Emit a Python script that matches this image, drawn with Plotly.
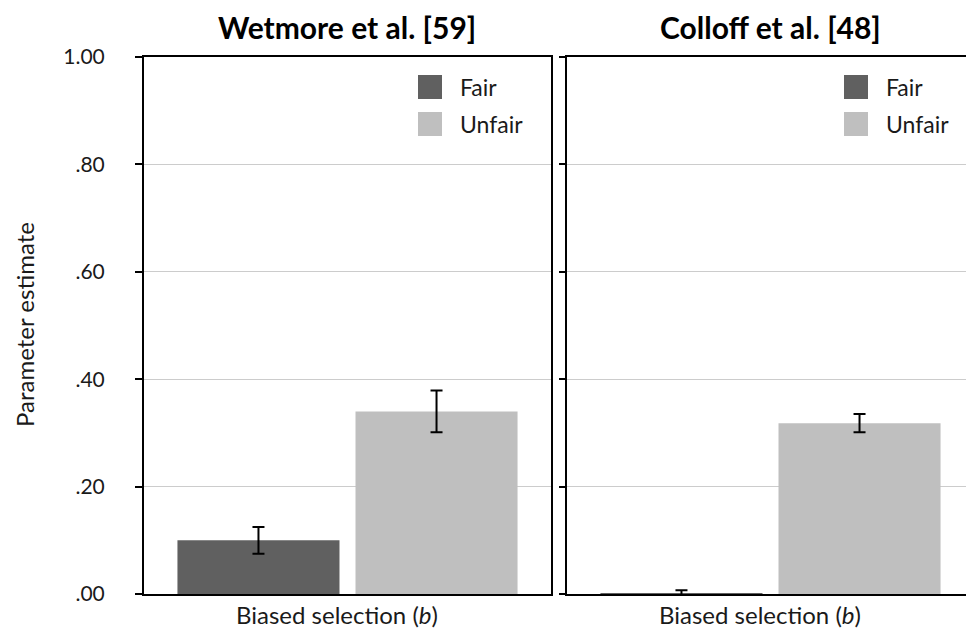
import plotly.graph_objects as go

categories = ["Biased selection (<i>b</i>)"]
panels = ["Wetmore et al. [59]", "Colloff et al. [48]"]
series = ["Fair", "Unfair"]
fair_values = [0.100, 0.001]
fair_err = [0.025, 0.006]
unfair_values = [0.340, 0.318]
unfair_err = [0.039, 0.017]
tick_vals = [0.0, 0.2, 0.4, 0.6, 0.8, 1.0]
tick_text = [".00", ".20", ".40", ".60", ".80", "1.00"]

colors = {"Fair": "#606060", "Unfair": "#bfbfbf"}
FONT = "Lato"
TXT = "#1a1a1a"
W, H = 966, 631

fig = go.Figure()
data = {"Fair": (fair_values, fair_err), "Unfair": (unfair_values, unfair_err)}
for i in range(2):
    xa = "x" if i == 0 else "x2"
    ya = "y" if i == 0 else "y2"
    for s in series:
        vals, errs = data[s]
        fig.add_trace(go.Bar(
            x=categories, y=[vals[i]], name=s, xaxis=xa, yaxis=ya,
            marker=dict(color=colors[s], line=dict(width=0)),
            error_y=dict(type="data", array=[errs[i]], color="black", thickness=2, width=6),
            showlegend=False, offsetgroup=s,
        ))

px_per_unit = 407
left_dom = [144 / W, 551 / W]
right_dom = [567 / W, 1.0]
ydom = [(H - 594) / H, (H - 57) / H]

axis_common = dict(showline=True, linecolor="black", linewidth=2, automargin=False)
fig.update_layout(
    width=W, height=H, margin=dict(l=0, r=0, t=0, b=0, pad=0, autoexpand=False),
    paper_bgcolor="white", plot_bgcolor="white",
    barmode="group", bargap=0.125, bargroupgap=0.09,
    font=dict(family=FONT, color=TXT),
    showlegend=False,
    xaxis=dict(domain=left_dom, range=[-0.5, 0.5], mirror=True, ticks="",
               showticklabels=False, **axis_common),
    xaxis2=dict(domain=right_dom, range=[-0.5, -0.5 + (W - 567) / px_per_unit], mirror=True, ticks="",
                anchor="y2", showticklabels=False, **axis_common),
    yaxis=dict(domain=ydom, range=[0, 1], tickvals=tick_vals, ticktext=tick_text,
               ticks="outside", ticklen=7, tickwidth=2, tickcolor="black",
               ticklabelstandoff=26,
               showgrid=True, gridcolor="#cccccc", gridwidth=1, mirror=True,
               tickfont=dict(size=21, color=TXT), zeroline=False, **axis_common),
    yaxis2=dict(domain=ydom, range=[0, 1], tickvals=tick_vals, showticklabels=False,
                ticks="outside", ticklen=6, tickwidth=2, tickcolor="black",
                showgrid=True, gridcolor="#cccccc", gridwidth=1, anchor="x2",
                zeroline=False, **axis_common),
)

# Category labels under each panel
for xr in ["x", "x2"]:
    fig.add_annotation(x=categories[0], xref=xr, y=0, yref="paper",
                       text=categories[0], showarrow=False, xshift=-11, yshift=1,
                       xanchor="center", yanchor="bottom", borderpad=0,
                       font=dict(size=24, color=TXT))

# Panel titles
centers = [(left_dom[0] + left_dom[1]) / 2, (567 + 567 + px_per_unit) / 2 / W]
for c, t in zip(centers, panels):
    fig.add_annotation(x=c, y=1 - 27 / H, xref="paper", yref="paper", text=f"<b>{t}</b>",
                       showarrow=False, font=dict(size=30, color="black", family=FONT),
                       xanchor="center", yanchor="middle")

# Y axis title
fig.add_annotation(x=24 / W, y=1 - 325 / H, xref="paper", yref="paper", text="Parameter estimate",
                   textangle=-90, showarrow=False, font=dict(size=24, color=TXT),
                   xanchor="center", yanchor="middle")

# Legends drawn per panel
legend_x = [418, 844]
for lx in legend_x:
    for j, s in enumerate(series):
        y0 = 75 + j * 37
        fig.add_shape(type="rect", xref="paper", yref="paper",
                      x0=lx / W, x1=(lx + 24) / W, y0=1 - (y0 + 24) / H, y1=1 - y0 / H,
                      fillcolor=colors[s], line=dict(width=0))
        fig.add_annotation(x=(lx + 40) / W, y=1 - (y0 + 12) / H, xref="paper", yref="paper",
                           text=s, showarrow=False, xanchor="left", yanchor="middle",
                           font=dict(size=23, color=TXT))

fig.write_html("out.html", config={"displayModeBar": False},
               post_script="document.body.style.margin='0';document.body.style.overflow='hidden';")
